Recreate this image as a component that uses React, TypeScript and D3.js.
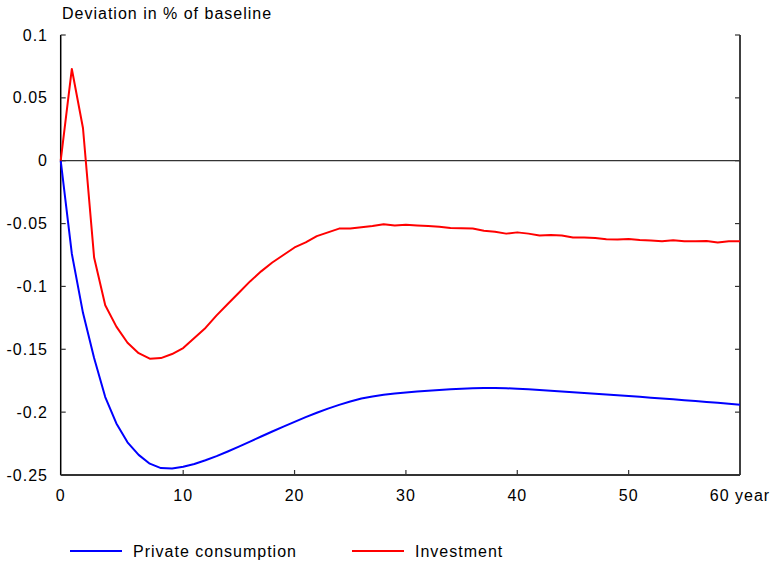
import React from "react";
import * as d3 from "d3";

const W = 781;
const H = 561;

// period -1 is the baseline point at the left edge (labelled "0" in the original)
const consumption = [
  0, -0.074, -0.121, -0.157, -0.188, -0.209, -0.224, -0.234, -0.241, -0.2445,
  -0.2448, -0.2435, -0.2412, -0.2383, -0.235, -0.2313, -0.2274, -0.2234, -0.2194, -0.2154,
  -0.2115, -0.2077, -0.204, -0.2005, -0.1972, -0.1942, -0.1915, -0.1892, -0.1875, -0.1862,
  -0.1852, -0.1844, -0.1836, -0.1829, -0.1823, -0.1818, -0.1813, -0.181, -0.1808, -0.1808,
  -0.181, -0.1814, -0.1818, -0.1823, -0.1829, -0.1835, -0.1841, -0.1847, -0.1853, -0.1859,
  -0.1865, -0.1871, -0.1878, -0.1885, -0.1892, -0.1898, -0.1905, -0.1912, -0.1919, -0.1926,
  -0.1934, -0.1942,
];

const investment = [
  0, 0.073, 0.026, -0.077, -0.115, -0.132, -0.1448, -0.1531, -0.1575, -0.157,
  -0.1538, -0.149, -0.141, -0.133, -0.123, -0.114, -0.105, -0.096, -0.088, -0.081,
  -0.075, -0.069, -0.065, -0.06, -0.057, -0.054, -0.054, -0.053, -0.052, -0.0505,
  -0.0515, -0.051, -0.0515, -0.052, -0.0525, -0.0535, -0.0537, -0.054, -0.0557, -0.0565,
  -0.058, -0.057, -0.058, -0.0594, -0.059, -0.0595, -0.061, -0.061, -0.0615, -0.0625,
  -0.0627, -0.0623, -0.063, -0.0635, -0.064, -0.0633, -0.064, -0.064, -0.0638, -0.065,
  -0.064, -0.064,
];

const years = consumption.map((_, i) => i - 1);

const xTicks = [-1, 10, 20, 30, 40, 50, 60];
const xTickLabels = ["0", "10", "20", "30", "40", "50", "60 year"];
const yTicks = [0.1, 0.05, 0, -0.05, -0.1, -0.15, -0.2, -0.25];
const yTickLabels = ["0.1", "0.05", "0", "-0.05", "-0.1", "-0.15", "-0.2", "-0.25"];

const seriesNames = ["Private consumption", "Investment"];
const seriesColors = ["#0000ff", "#ff0000"];

const font = "'Liberation Sans', Arial, Helvetica, sans-serif";

export default function App() {
  const left = 60.7;
  const right = 740;
  const top = 35;
  const bottom = 475;

  const x = d3.scaleLinear().domain([-1, 60]).range([left, right]);
  const y = d3.scaleLinear().domain([-0.25, 0.1]).range([bottom, top]);

  const line = d3
    .line<number>()
    .x((_, i) => x(years[i]))
    .y((d) => y(d));

  const series = [consumption, investment];

  return (
    <svg
      width={W}
      height={H}
      style={{ position: "absolute", left: 0, top: 0, background: "#fff" }}
      fontFamily={font}
      letterSpacing={1}
    >
      <text x={62} y={19} fontSize={16} fill="#000">
        Deviation in % of baseline
      </text>

      {/* zero line */}
      <line x1={left} x2={right} y1={y(0)} y2={y(0)} stroke="#000" strokeWidth={1} />

      {/* axes */}
      <line x1={left} x2={left} y1={top} y2={bottom} stroke="#000" strokeWidth={1.5} />
      <line x1={right} x2={right} y1={top} y2={bottom} stroke="#000" strokeWidth={1.5} />
      <line x1={left} x2={right} y1={bottom} y2={bottom} stroke="#333" strokeWidth={2} />

      {yTicks.map((t, i) => (
        <g key={"y" + i}>
          <line x1={left} x2={left + 5} y1={y(t)} y2={y(t)} stroke="#333" strokeWidth={1.2} />
          <line x1={right - 5} x2={right} y1={y(t)} y2={y(t)} stroke="#333" strokeWidth={1.2} />
          <text x={48} y={y(t) + 5.5} textAnchor="end" fontSize={16} fill="#000">
            {yTickLabels[i]}
          </text>
        </g>
      ))}

      {xTicks.map((t, i) => (
        <g key={"x" + i}>
          {i > 0 && i < xTicks.length - 1 && (
            <line x1={x(t)} x2={x(t)} y1={bottom} y2={bottom - 5} stroke="#333" strokeWidth={1.2} />
          )}
          <text x={x(t)} y={501} textAnchor="middle" fontSize={16} fill="#000">
            {xTickLabels[i]}
          </text>
        </g>
      ))}

      {series.map((s, i) => (
        <path
          key={"s" + i}
          d={line(s) || ""}
          fill="none"
          stroke={seriesColors[i]}
          strokeWidth={2}
          strokeLinejoin="round"
        />
      ))}

      {/* legend */}
      {seriesNames.map((name, i) => {
        const lx = i === 0 ? 70 : 352;
        return (
          <g key={"l" + i}>
            <line x1={lx} x2={lx + 52} y1={551} y2={551} stroke={seriesColors[i]} strokeWidth={2} />
            <text x={lx + 63} y={557} fontSize={16} fill="#000">
              {name}
            </text>
          </g>
        );
      })}
    </svg>
  );
}
